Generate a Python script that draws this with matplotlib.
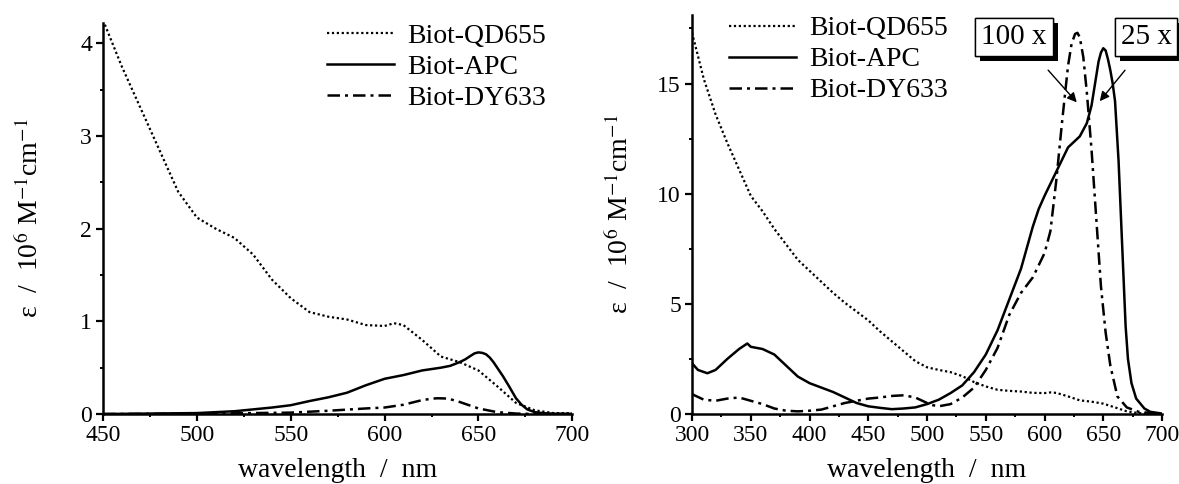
import numpy as np
import matplotlib.pyplot as plt
from matplotlib.ticker import MultipleLocator
import matplotlib.patheffects as pe

plt.rcParams['font.family'] = ['Liberation Serif', 'DejaVu Serif']
plt.rcParams['mathtext.fontset'] = 'stix'

# left panel: absolute spectra, 450-700 nm
qd_wl = [450, 460, 470, 480, 490, 500, 510, 520, 530, 540, 550, 560, 570, 580,
         590, 600, 605, 610, 620, 630, 640, 650, 660, 670, 680, 690, 700]
qd_eps = [4.25, 3.75, 3.3, 2.85, 2.4, 2.12, 2.0, 1.9, 1.72, 1.45, 1.25, 1.1,
          1.05, 1.02, 0.96, 0.95, 0.98, 0.96, 0.8, 0.62, 0.56, 0.47, 0.3, 0.12,
          0.04, 0.01, 0.01]

apc_wl = [450, 500, 520, 540, 550, 560, 570, 580, 590, 600, 610, 620, 630, 635,
          640, 643, 646, 648, 650, 652, 654, 656, 658, 660, 663, 666, 670, 673,
          676, 680, 685, 690, 700]
apc_eps = [0.0, 0.01, 0.03, 0.07, 0.095, 0.14, 0.18, 0.23, 0.31, 0.38, 0.42,
           0.47, 0.5, 0.52, 0.56, 0.59, 0.63, 0.655, 0.665, 0.66, 0.645, 0.61,
           0.56, 0.5, 0.41, 0.31, 0.17, 0.1, 0.05, 0.02, 0.008, 0.004, 0.0]

dy_wl = [450, 500, 550, 570, 590, 600, 610, 620, 625, 628, 632, 635, 640, 645,
         650, 655, 660, 670, 680, 700]
dy_eps = [0.0, 0.003, 0.015, 0.035, 0.06, 0.07, 0.1, 0.15, 0.165, 0.17, 0.168,
          0.16, 0.13, 0.095, 0.06, 0.04, 0.02, 0.005, 0.0, 0.0]

# right panel: 300-700 nm, APC x25, DY633 x100
qd2_wl = [300, 310, 320, 330, 340, 350, 360, 370, 380, 390, 400, 410, 420, 430,
          440] + qd_wl
qd2_eps = [17.3, 15.2, 13.6, 12.3, 11.1, 9.9, 9.2, 8.4, 7.7, 7.0, 6.5, 6.0, 5.5,
           5.05, 4.65] + qd_eps

apc2_wl = [300, 305, 313, 320, 330, 340, 347, 350, 360, 370, 380, 390, 400, 410,
           420, 430, 440, 450, 460, 470, 480, 490, 500, 510, 520, 530, 540, 550,
           560, 570, 580, 590, 595, 600, 610, 620, 630, 636, 640, 643, 646, 648,
           650, 652, 654, 656, 658, 660, 663, 665, 667, 669, 671, 674, 678, 685,
           690, 700]
apc2_eps = [2.3, 2.0, 1.85, 2.0, 2.5, 2.95, 3.2, 3.05, 2.95, 2.7, 2.2, 1.7, 1.4,
            1.2, 1.0, 0.75, 0.5, 0.35, 0.28, 0.22, 0.25, 0.3, 0.45, 0.65, 0.95,
            1.3, 1.9, 2.7, 3.8, 5.2, 6.6, 8.5, 9.3, 9.9, 11.0, 12.1, 12.6, 13.2,
            14.0, 15.0, 16.0, 16.4, 16.6, 16.5, 16.1, 15.6, 15.0, 14.2, 11.5, 9.0,
            6.5, 4.0, 2.5, 1.4, 0.7, 0.25, 0.1, 0.02]

dy2_wl = [300, 310, 320, 330, 340, 350, 360, 370, 380, 390, 400, 410, 420, 430,
          440, 450, 460, 470, 480, 490, 500, 505, 510, 520, 530, 540, 550, 560,
          570, 580, 590, 600, 605, 610, 615, 620, 623, 626, 628, 630, 633, 636,
          640, 644, 648, 652, 656, 662, 670, 680, 690, 700]
dy2_eps = [0.9, 0.65, 0.6, 0.7, 0.75, 0.6, 0.45, 0.25, 0.15, 0.12, 0.15, 0.2,
           0.35, 0.5, 0.6, 0.7, 0.75, 0.82, 0.85, 0.75, 0.5, 0.4, 0.35, 0.45,
           0.75, 1.2, 2.0, 3.0, 4.5, 5.5, 6.2, 7.3, 8.3, 10.6, 13.3, 15.8, 16.8,
           17.25, 17.3, 17.1, 16.2, 14.6, 12.0, 8.9, 5.8, 3.7, 2.2, 0.8, 0.3, 0.1,
           0.05, 0.0]

labels = ['Biot-QD655', 'Biot-APC', 'Biot-DY633']
ylab = 'ε  /  10$^{6}$ M$^{-1}$cm$^{-1}$'

fig = plt.figure(figsize=(11.79, 4.84), dpi=100)
ax1 = fig.add_axes([0.0874, 0.1446, 0.398, 0.808])
ax2 = fig.add_axes([0.587, 0.1446, 0.3986, 0.824])

dot = (0, (1, 1.2))
dashdot = (0, (5, 2, 1.2, 2))

for ax, data in [(ax1, [(qd_wl, qd_eps), (apc_wl, apc_eps), (dy_wl, dy_eps)]),
                 (ax2, [(qd2_wl, qd2_eps), (apc2_wl, apc2_eps), (dy2_wl, dy2_eps)])]:
    ax.plot(*data[0], color='k', lw=1.6, ls=dot, label=labels[0])
    ax.plot(*data[1], color='k', lw=1.8, ls='-', label=labels[1])
    ax.plot(*data[2], color='k', lw=1.8, ls=dashdot, label=labels[2])
    for s in ['top', 'right']:
        ax.spines[s].set_visible(False)
    for s in ['left', 'bottom']:
        ax.spines[s].set_linewidth(1.8)
    ax.tick_params(which='major', direction='out', length=5, width=1.6, labelsize=17, pad=3)
    ax.tick_params(which='minor', direction='out', length=2.5, width=1.4)
    ax.xaxis.set_minor_locator(MultipleLocator(25))
    ax.set_xlabel('wavelength  /  nm', fontsize=20)
    ax.set_ylabel(ylab, fontsize=20)
    ax.xaxis.set_major_locator(MultipleLocator(50))

ax1.set_xlim(450, 700)
ax1.set_ylim(0, 4.22)
ax1.yaxis.set_major_locator(MultipleLocator(1))
ax1.yaxis.set_minor_locator(MultipleLocator(0.5))
ax1.yaxis.set_label_coords(-0.126, 0.5)
ax1.xaxis.set_label_coords(0.5, -0.113)
ax1.legend(loc='upper left', frameon=False, fontsize=20, handlelength=2.4,
           handletextpad=0.5, borderaxespad=0.0, labelspacing=0.2,
           bbox_to_anchor=(0.268, 0.975), bbox_transform=fig.transFigure)

ax2.set_xlim(300, 700)
ax2.set_ylim(0, 18.1)
ax2.yaxis.set_major_locator(MultipleLocator(5))
ax2.yaxis.set_minor_locator(MultipleLocator(2.5))
ax2.yaxis.set_label_coords(-0.123, 0.5)
ax2.xaxis.set_label_coords(0.5, -0.11)
ax2.legend(loc='upper left', frameon=False, fontsize=20, handlelength=2.4,
           handletextpad=0.5, borderaxespad=0.0, labelspacing=0.2,
           bbox_to_anchor=(0.609, 0.99), bbox_transform=fig.transFigure)

for txt, xt in [('100 x', (574, 17.1)), ('25 x', (686.5, 17.1))]:
    t = ax2.text(xt[0], xt[1], txt, fontsize=21, ha='center', va='center',
                 bbox=dict(boxstyle='square,pad=0.2', fc='white', ec='k', lw=1.0),
                 zorder=5, clip_on=False)
    t.get_bbox_patch().set_path_effects(
        [pe.withSimplePatchShadow(offset=(3.6, -3.6), shadow_rgbFace='k', alpha=1.0),
         pe.Normal()])

ax2.annotate('', xy=(629, 14.05), xytext=(601.5, 15.7),
             arrowprops=dict(arrowstyle='-|>', color='k', lw=1.0, mutation_scale=14))
ax2.annotate('', xy=(645.5, 14.1), xytext=(670, 15.7),
             arrowprops=dict(arrowstyle='-|>', color='k', lw=1.0, mutation_scale=14))

fig.savefig('out.png', dpi=100)
